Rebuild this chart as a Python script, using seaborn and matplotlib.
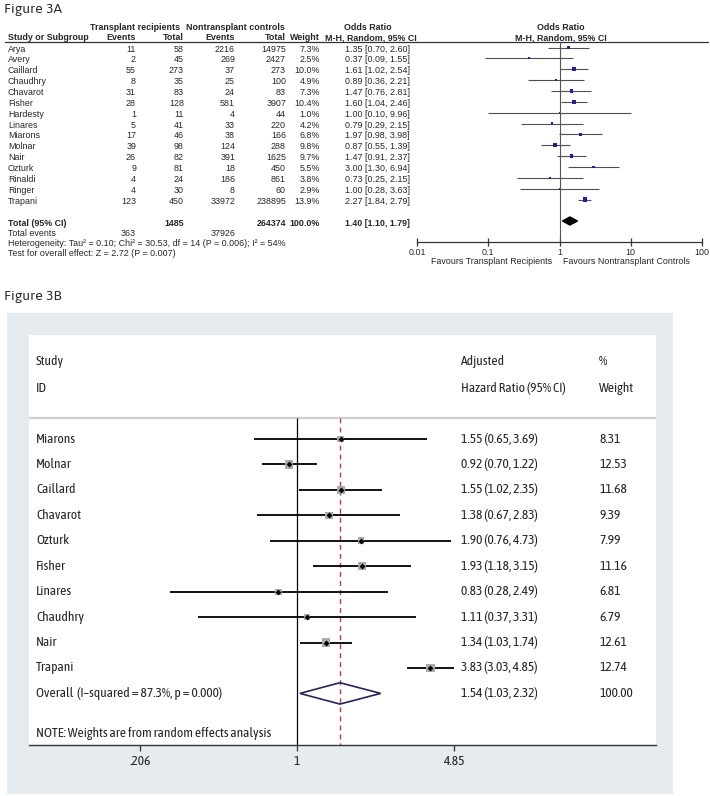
import numpy as np
import pandas as pd
import seaborn as sns
import matplotlib.pyplot as plt
from matplotlib.patches import Rectangle, Polygon
from matplotlib.ticker import NullLocator
import matplotlib.transforms as mtransforms

# ---- Figure 3A data (RevMan table) ----
studies_a = ['Arya', 'Avery', 'Caillard', 'Chaudhry', 'Chavarot', 'Fisher', 'Hardesty', 'Linares',
             'Miarons', 'Molnar', 'Nair', 'Ozturk', 'Rinaldi', 'Ringer', 'Trapani']
tx_events = [11, 2, 55, 8, 31, 28, 1, 5, 17, 39, 26, 9, 4, 4, 123]
tx_total = [58, 45, 273, 35, 83, 128, 11, 41, 46, 98, 82, 81, 24, 30, 450]
ctl_events = [2216, 269, 37, 25, 24, 581, 4, 33, 38, 124, 391, 18, 186, 8, 33972]
ctl_total = [14975, 2427, 273, 100, 83, 3907, 44, 220, 166, 288, 1625, 450, 861, 60, 238895]
weight_a = [7.3, 2.5, 10.0, 4.9, 7.3, 10.4, 1.0, 4.2, 6.8, 9.8, 9.7, 5.5, 3.8, 2.9, 13.9]
or_est = [1.35, 0.37, 1.61, 0.89, 1.47, 1.60, 1.00, 0.79, 1.97, 0.87, 1.47, 3.00, 0.73, 1.00, 2.27]
or_lo = [0.70, 0.09, 1.02, 0.36, 0.76, 1.04, 0.10, 0.29, 0.98, 0.55, 0.91, 1.30, 0.25, 0.28, 1.84]
or_hi = [2.60, 1.55, 2.54, 2.21, 2.81, 2.46, 9.96, 2.15, 3.98, 1.39, 2.37, 6.94, 2.15, 3.63, 2.79]
pooled_a = (1.40, 1.10, 1.79)
totals_a = {'tx_total': 1485, 'ctl_total': 264374, 'tx_events': 363, 'ctl_events': 37926}
a_ticks = [0.01, 0.1, 1, 10, 100]
a_ticklabels = ['0.01', '0.1', '1', '10', '100']

# ---- Figure 3B data (Stata forest plot) ----
studies_b = ['Miarons', 'Molnar', 'Caillard', 'Chavarot', 'Ozturk', 'Fisher', 'Linares',
             'Chaudhry', 'Nair', 'Trapani']
hr = [1.55, 0.92, 1.55, 1.38, 1.90, 1.93, 0.83, 1.11, 1.34, 3.83]
hr_lo = [0.65, 0.70, 1.02, 0.67, 0.76, 1.18, 0.28, 0.37, 1.03, 3.03]
hr_hi = [3.69, 1.22, 2.35, 2.83, 4.73, 3.15, 2.49, 3.31, 1.74, 4.85]
weight_b = [8.31, 12.53, 11.68, 9.39, 7.99, 11.16, 6.81, 6.79, 12.61, 12.74]
overall_b = (1.54, 1.03, 2.32)
b_ticks = [0.206, 1, 4.85]
b_ticklabels = ['.206', '1', '4.85']

df_a = pd.DataFrame({'study': studies_a, 'est': or_est, 'lo': or_lo, 'hi': or_hi, 'w': weight_a})
df_a['row'] = np.arange(len(df_a))
df_b = pd.DataFrame({'study': studies_b, 'est': hr, 'lo': hr_lo, 'hi': hr_hi, 'w': weight_b})
df_b['row'] = np.arange(len(df_b))

sns.set_style('white')
plt.rcParams['font.family'] = ['Liberation Sans', 'DejaVu Sans']

W, H = 710, 796
fig = plt.figure(figsize=(W / 100, H / 100), dpi=100)


def fx(x):
    return x / W


def fy(y):
    return 1 - y / H


def add_ax(left, top, right, bottom):
    return fig.add_axes([fx(left), fy(bottom), (right - left) / W, (bottom - top) / H])


# ================= Figure 3A =================
fa = ['Liberation Sans', 'DejaVu Sans']
fsa = 6.4
ftitle = ['Asap', 'Lato', 'DejaVu Sans']
fig.text(fx(4), fy(9), 'Figure 3A', family=ftitle, fontsize=10, va='center')

row0_a, dy_a = 47.5, 10.86


def ya(i):
    return row0_a + dy_a * i + 1.5


# headers
hdr = dict(fontsize=fsa, fontweight='bold', va='center', family=fa)
fig.text(fx(135), fy(28), 'Transplant recipients', ha='center', **hdr)
fig.text(fx(235), fy(28), 'Nontransplant controls', ha='center', **hdr)
fig.text(fx(368), fy(28), 'Odds Ratio', ha='center', **hdr)
fig.text(fx(561), fy(28), 'Odds Ratio', ha='center', **hdr)
fig.text(fx(8), fy(38), 'Study or Subgroup', ha='left', **hdr)
fig.text(fx(136), fy(38), 'Events', ha='right', **hdr)
fig.text(fx(184), fy(38), 'Total', ha='right', **hdr)
fig.text(fx(235), fy(38), 'Events', ha='right', **hdr)
fig.text(fx(286), fy(38), 'Total', ha='right', **hdr)
fig.text(fx(320), fy(38), 'Weight', ha='right', **hdr)
fig.text(fx(371), fy(38), 'M-H, Random, 95% CI', ha='center', **hdr)
fig.text(fx(561), fy(38), 'M-H, Random, 95% CI', ha='center', **hdr)
fig.add_artist(plt.Line2D([fx(5), fx(708)], [fy(42), fy(42)], color='#333333', lw=0.9))

cell = dict(fontsize=fsa, va='center', family=fa)
for i, r in df_a.iterrows():
    y = fy(ya(i))
    fig.text(fx(8), y, r['study'], ha='left', **cell)
    fig.text(fx(136), y, str(tx_events[i]), ha='right', **cell)
    fig.text(fx(184), y, str(tx_total[i]), ha='right', **cell)
    fig.text(fx(235), y, str(ctl_events[i]), ha='right', **cell)
    fig.text(fx(286), y, str(ctl_total[i]), ha='right', **cell)
    fig.text(fx(320), y, f"{r['w']:.1f}%", ha='right', **cell)
    fig.text(fx(410), y, f"{r['est']:.2f} [{r['lo']:.2f}, {r['hi']:.2f}]", ha='right', **cell)

bold = dict(cell, fontweight='bold')
fig.text(fx(8), fy(223), 'Total (95% CI)', ha='left', **bold)
fig.text(fx(184), fy(223), str(totals_a['tx_total']), ha='right', **bold)
fig.text(fx(286), fy(223), str(totals_a['ctl_total']), ha='right', **bold)
fig.text(fx(320), fy(223), '100.0%', ha='right', **bold)
fig.text(fx(410), fy(223), f"{pooled_a[0]:.2f} [{pooled_a[1]:.2f}, {pooled_a[2]:.2f}]", ha='right', **bold)
fig.text(fx(8), fy(233), 'Total events', ha='left', **cell)
fig.text(fx(136), fy(233), str(totals_a['tx_events']), ha='right', **cell)
fig.text(fx(235), fy(233), str(totals_a['ctl_events']), ha='right', **cell)
fig.text(fx(8), fy(244), 'Heterogeneity: Tau\u00b2 = 0.10; Chi\u00b2 = 30.53, df = 14 (P = 0.006); I\u00b2 = 54%',
         ha='left', **cell)
fig.text(fx(8), fy(254), 'Test for overall effect: Z = 2.72 (P = 0.007)', ha='left', **cell)

# forest A
axa = add_ax(417, 42, 702, 242)
axa.set_xscale('log')
axa.set_xlim(0.01, 100)
axa.set_ylim((242 - row0_a) / dy_a, (42 - row0_a) / dy_a)
axa.patch.set_alpha(0)
axa.axvline(1, color='#555555', lw=0.8, zorder=1)
axa.hlines(df_a['row'], df_a['lo'], df_a['hi'], color='#505050', lw=0.8, zorder=2)
sns.scatterplot(data=df_a, x='est', y='row', size='w', sizes={w: w * 0.7 for w in weight_a},
                marker='s', color='#1f1f9a', linewidth=0, legend=False, ax=axa, zorder=3)
prow = (221 - row0_a) / dy_a
pe, pl, ph = pooled_a
axa.add_patch(Polygon([(pl, prow), (pe, prow - 0.37), (ph, prow), (pe, prow + 0.37)],
                      closed=True, color='black', zorder=4))
for s in ['top', 'left', 'right']:
    axa.spines[s].set_visible(False)
axa.spines['bottom'].set_color('#333333')
axa.spines['bottom'].set_linewidth(0.9)
axa.set_xticks(a_ticks)
axa.set_xticklabels(a_ticklabels, fontsize=fsa, family=fa)
axa.xaxis.set_minor_locator(NullLocator())
axa.set_yticks([])
axa.tick_params(axis='x', direction='inout', length=6, width=0.9, color='#333333', pad=1, bottom=True)
axa.set_xlabel('')
axa.set_ylabel('')
fig.text(fx(552), fy(261), 'Favours Transplant Recipients', ha='right', **cell)
fig.text(fx(563), fy(261), 'Favours Nontransplant Controls', ha='left', **cell)

# ================= Figure 3B =================
fb = ['Asap Condensed', 'Archivo Narrow', 'Liberation Sans', 'DejaVu Sans']
fsb = 9.7
fig.text(fx(4), fy(296), 'Figure 3B', family=ftitle, fontsize=10, va='center')
fig.patches.append(Rectangle((fx(7), fy(794)), 666 / W, 481 / H, transform=fig.transFigure,
                             facecolor='#e6ebef', edgecolor='none', zorder=-5))

row0_b, dy_b = 439, 25.44
axb = add_ax(29, 335, 656, 745)
axb.set_zorder(2)
axb.set_facecolor('white')
axb.set_xscale('log')
px_per_ln = 99.4
axb.set_xlim(np.exp((29 - 297) / px_per_ln), np.exp((656 - 297) / px_per_ln))
axb.set_ylim((745 - row0_b) / dy_b, (335 - row0_b) / dy_b)
sep = (418 - row0_b) / dy_b
ybot = (745 - row0_b) / dy_b
axb.axhline(sep, color='#cfcfcf', lw=1.6, zorder=1)
axb.vlines(1, sep, ybot, color='black', lw=0.9, zorder=2)
axb.vlines(overall_b[0], sep, ybot, color='#9b4a46', lw=1.0, linestyles=(0, (3.5, 3)), zorder=2)
axb.hlines(df_b['row'], df_b['lo'], df_b['hi'], color='black', lw=1.3, zorder=3)
sns.scatterplot(data=df_b, x='est', y='row', size='w', sizes={w: w * 2.8 for w in weight_b},
                marker='s', color='#ababab', linewidth=0, legend=False, ax=axb, zorder=4)
sns.scatterplot(data=df_b, x='est', y='row', marker='D', color='black', s=9, linewidth=0,
                legend=False, ax=axb, zorder=5)
oe, ol, oh = overall_b
orow = len(df_b)
axb.add_patch(Polygon([(ol, orow), (oe, orow - 0.42), (oh, orow), (oe, orow + 0.42)],
                      closed=True, facecolor='none', edgecolor='#25255a', lw=1.2, zorder=5))

for s in ['top', 'left', 'right']:
    axb.spines[s].set_visible(False)
axb.spines['bottom'].set_color('#333333')
axb.spines['bottom'].set_linewidth(1.0)
axb.set_xticks(b_ticks)
axb.set_xticklabels(b_ticklabels, fontsize=fsb, family=fb)
axb.xaxis.set_minor_locator(NullLocator())
axb.set_yticks([])
axb.tick_params(axis='x', direction='out', length=4, width=0.9, color='#333333', pad=3, bottom=True)
axb.set_xlabel('')
axb.set_ylabel('')

tb = mtransforms.blended_transform_factory(axb.transAxes, axb.transData)
xs, xh, xw = (36 - 29) / 627, (461 - 29) / 627, (599 - 29) / 627
tkw = dict(transform=tb, fontsize=fsb, family=fb, va='center', ha='left')
axb.text(xs, -3.03, 'Study', **tkw)
axb.text(xs, -2.0, 'ID', **tkw)
axb.text(xh, -3.03, 'Adjusted', **tkw)
axb.text(xh, -2.0, 'Hazard Ratio (95% CI)', **tkw)
axb.text(xw, -3.03, '%', **tkw)
axb.text(xw, -2.0, 'Weight', **tkw)
for i, r in df_b.iterrows():
    axb.text(xs, i, r['study'], **tkw)
    axb.text(xh, i, f"{r['est']:.2f} ({r['lo']:.2f}, {r['hi']:.2f})", **tkw)
    axb.text(xw, i, f"{r['w']:.2f}", **tkw)
axb.text(xs, orow, 'Overall  (I\u2013squared = 87.3%, p = 0.000)', **tkw)
axb.text(xh, orow, f"{oe:.2f} ({ol:.2f}, {oh:.2f})", **tkw)
axb.text(xw, orow, '100.00', **tkw)
axb.text(xs, (733 - row0_b) / dy_b, 'NOTE: Weights are from random effects analysis', **tkw)

fig.savefig('out.png', dpi=100, facecolor='white')
